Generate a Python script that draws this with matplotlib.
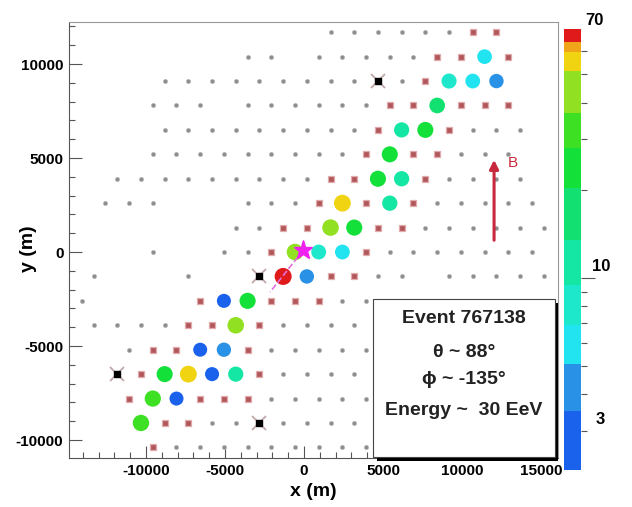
import numpy as np
import matplotlib.pyplot as plt
from matplotlib.colors import ListedColormap, BoundaryNorm
from matplotlib.patches import Rectangle
from matplotlib.ticker import FixedLocator, MultipleLocator, NullFormatter

plt.rcParams['font.family'] = ['Liberation Sans', 'DejaVu Sans']
plt.rcParams['font.weight'] = 'bold'
plt.rcParams['axes.unicode_minus'] = False

# station positions read off the event display (metres), one row of the grid per line
# stations that were running but not triggered
idle_pts = [
    (1680, 11691), (3180, 11691), (4680, 11691), (6180, 11691), (7680, 11691), (9180, 11691),
    (-3570, 10392), (-2070, 10392), (930, 10392), (2430, 10392), (3930, 10392), (5430, 10392), (6930, 10392),
    (-8820, 9093), (-7320, 9093), (-5820, 9093), (-4320, 9093), (-2820, 9093), (-1320, 9093), (180, 9093),
    (1680, 9093), (3180, 9093), (6180, 9093),
    (-9570, 7794), (-8070, 7794), (-6570, 7794), (-3570, 7794), (-2070, 7794), (-570, 7794), (930, 7794),
    (2430, 7794), (3930, 7794),
    (-8820, 6495), (-7320, 6495), (-5820, 6495), (-4320, 6495), (-2820, 6495), (-1320, 6495), (180, 6495),
    (1680, 6495), (3180, 6495), (10680, 6495), (12180, 6495), (13680, 6495),
    (-9570, 5196), (-8070, 5196), (-6570, 5196), (-5070, 5196), (-3570, 5196), (-2070, 5196), (-570, 5196),
    (930, 5196), (2430, 5196), (9930, 5196), (11430, 5196), (12930, 5196),
    (-11820, 3897), (-10320, 3897), (-8820, 3897), (-7320, 3897), (-5820, 3897), (-4320, 3897), (-2820, 3897),
    (-1320, 3897), (180, 3897), (9180, 3897), (10680, 3897), (12180, 3897), (13680, 3897),
    (-12570, 2598), (-11070, 2598), (-9570, 2598), (-3570, 2598), (-2070, 2598), (-570, 2598), (8430, 2598),
    (9930, 2598), (11430, 2598), (12930, 2598), (14430, 2598),
    (-4320, 1299), (-2820, 1299), (7680, 1299), (9180, 1299), (10680, 1299), (12180, 1299), (13680, 1299),
    (15180, 1299),
    (-9570, 0), (-5070, 0), (-3570, 0), (5430, 0), (6930, 0), (8430, 0), (9930, 0), (11430, 0), (12930, 0),
    (14430, 0),
    (-13320, -1299), (-7320, -1299), (4680, -1299), (6180, -1299), (9180, -1299), (10680, -1299),
    (12180, -1299), (13680, -1299), (15180, -1299),
    (-14070, -2598), (2430, -2598), (3930, -2598),
    (-13320, -3897), (-11820, -3897), (-10320, -3897), (-8820, -3897), (-1320, -3897), (180, -3897),
    (1680, -3897), (3180, -3897),
    (-11070, -5196), (-2070, -5196), (-570, -5196), (930, -5196), (2430, -5196), (3930, -5196),
    (-1320, -6495), (180, -6495), (1680, -6495), (3180, -6495),
    (-2070, -7794), (-570, -7794), (930, -7794), (2430, -7794), (3930, -7794),
    (-5820, -9093), (-4320, -9093), (-1320, -9093), (180, -9093), (1680, -9093), (3180, -9093),
    (-8070, -10392), (-6570, -10392), (-5070, -10392), (-3570, -10392), (-2070, -10392), (-570, -10392),
    (930, -10392), (2430, -10392), (3930, -10392),
]

# silent stations (red squares)
silent_pts = [
    (10680, 11691), (12180, 11691),
    (8430, 10392), (9930, 10392), (12930, 10392),
    (7680, 9093),
    (5430, 7794), (6930, 7794), (9930, 7794), (11430, 7794), (12930, 7794),
    (4680, 6495), (9180, 6495),
    (3930, 5196), (6930, 5196), (8430, 5196),
    (1680, 3897), (3180, 3897), (7680, 3897),
    (930, 2598), (3930, 2598), (6930, 2598),
    (-1320, 1299), (180, 1299), (4680, 1299), (6180, 1299),
    (-2070, 0), (3930, 0),
    (1680, -1299), (3180, -1299),
    (-6570, -2598), (-2070, -2598), (-570, -2598), (930, -2598),
    (-7320, -3897), (-5820, -3897), (-2820, -3897),
    (-9570, -5196), (-8070, -5196), (-3570, -5196),
    (-10320, -6495), (-2820, -6495),
    (-11070, -7794), (-6570, -7794), (-5070, -7794), (-3570, -7794),
    (-8820, -9093), (-7320, -9093),
    (-9570, -10392),
]

# stations out of service (black)
bad_pts = [(4680, 9093), (-2820, -1299), (-11820, -6495), (-2820, -9093)]

# triggered stations: x, y and signal (VEM)
hit_x = [11430, 9180, 10680, 12180, 8430, 6180, 7680, 5430, 4680, 6180, 2430, 5430, 1680, 3180,
         -570, 930, 2430, -1320, 180, -5070, -3570, -4320, -6570, -5070, -8820, -7320, -5820, -4320,
         -9570, -8070, -10320]
hit_y = [10392, 9093, 9093, 9093, 7794, 6495, 6495, 5196, 3897, 3897, 2598, 2598, 1299, 1299,
         0, 0, 0, -1299, -1299, -2598, -2598, -3897, -5196, -5196, -6495, -6495, -6495, -6495,
         -7794, -7794, -9093]
hit_signal = [6.0, 9.0, 6.5, 4.3, 16, 10, 24, 25, 26, 11, 55, 11, 40, 27,
              42, 7.2, 6.8, 68, 4.5, 3.0, 27, 40, 2.8, 4.0, 26, 56, 3.1, 10,
              30, 2.9, 34]

core_x, core_y = -40, 100
axis_end = (-2150, -2130)

# colour scale (discrete bands, log axis)
signal_edges = [2.2, 3.5, 5.1, 6.9, 9.5, 13.5, 20.4, 28, 37, 51.5, 59.5, 64.4, 71.6]
band_colors = ['#1a62ec', '#2a92e6', '#22e4f0', '#1ee8cc', '#14e6a4', '#12e070',
               '#14e03a', '#3ee024', '#92e022', '#f0d412', '#f0a41a', '#e01a1a']

cmap = ListedColormap(band_colors)
norm = BoundaryNorm(signal_edges, cmap.N)

fig = plt.figure(figsize=(6.32, 5.07), dpi=100)
ax = fig.add_axes([0.1092, 0.0966, 0.7737, 0.86])
cax = fig.add_axes([0.8924, 0.073, 0.0269, 0.870])

ix, iy = zip(*idle_pts)
ax.plot(ix, iy, 'o', ms=3.0, color='#8c8c8c', mec='#b8b8b8', mew=0.5, zorder=2)
sx, sy = zip(*silent_pts)
ax.plot(sx, sy, 's', ms=4.4, color='#b0585c', mec='#e2aaaa', mew=0.9, zorder=2)
bx, by = zip(*bad_pts)
ax.plot(bx, by, 'x', ms=10, color='#c0a8a8', mew=1.3, zorder=2)
ax.plot(bx, by, 's', ms=3.8, color='black', zorder=3)

sizes = [((13 + 2.2 * np.log10(s)) * 0.72) ** 2 for s in hit_signal]
ax.scatter(hit_x, hit_y, s=sizes, c=hit_signal, cmap=cmap, norm=norm,
           edgecolors='none', zorder=4)

# shower axis projection and core
ax.plot([core_x, axis_end[0]], [core_y, axis_end[1]], '--', color='#e070e0', lw=1.2, zorder=5)
ax.plot(core_x, core_y, '*', ms=14, color='#f020f0', zorder=6)

# magnetic field arrow
ax.annotate('', xy=(12030, 5050), xytext=(12030, 480),
            arrowprops=dict(arrowstyle='-|>', color='#c8283c', lw=2.2, mutation_scale=13),
            zorder=5)
ax.text(13230, 4734, 'B', color='#c8283c', fontsize=11, fontweight='normal',
        ha='center', va='center', zorder=5)

ax.set_xlim(-14873, 16076)
ax.set_ylim(-10957, 12234)
ax.xaxis.set_major_locator(MultipleLocator(5000))
ax.xaxis.set_minor_locator(MultipleLocator(1000))
ax.yaxis.set_major_locator(MultipleLocator(5000))
ax.yaxis.set_minor_locator(MultipleLocator(1000))
ax.tick_params(which='both', direction='in', top=False, right=False, labelsize=11,
               color='#555555', width=0.8)
ax.tick_params(which='major', length=9, pad=4)
ax.tick_params(which='minor', length=4.5)
for lab in ax.get_xticklabels() + ax.get_yticklabels():
    lab.set_fontweight('bold')
for side in ['left', 'bottom']:
    ax.spines[side].set_color('#555555')
for side in ['top', 'right']:
    ax.spines[side].set_color('#999999')
ax.set_xlabel('x (m)', fontsize=14, fontweight='bold', labelpad=4)
ax.set_ylabel('y (m)', fontsize=14, fontweight='bold')
ax.yaxis.set_label_coords(-0.065, 0.48)

# info box with shadow
ax.add_patch(Rectangle((0.629, -0.006), 0.372, 0.362, transform=ax.transAxes,
                       facecolor='black', edgecolor='none', zorder=7, clip_on=False))
ax.add_patch(Rectangle((0.622, 0.003), 0.372, 0.361, transform=ax.transAxes,
                       facecolor='white', edgecolor='#444444', lw=0.8, zorder=8, clip_on=False))
box_lines = ['Event 767138', 'θ ~ 88°', 'ϕ ~ -135°', 'Energy ~  30 EeV']
box_y = [0.321, 0.243, 0.179, 0.110]
for txt, yy in zip(box_lines, box_y):
    ax.text(0.808, yy, txt, transform=ax.transAxes, ha='center', va='center',
            fontsize=14, fontweight='bold', color='#222222', zorder=9)

# colour bar drawn as bands on a log axis
cax.set_yscale('log')
for lo, hi, col in zip(signal_edges[:-1], signal_edges[1:], band_colors):
    cax.axhspan(lo, hi, color=col, lw=0)
cax.set_ylim(signal_edges[0], signal_edges[-1])
cax.set_xlim(0, 1)
cax.set_xticks([])
cax.yaxis.tick_right()
cax.yaxis.set_major_locator(FixedLocator([10]))
cax.yaxis.set_minor_locator(FixedLocator([3, 4, 5, 6, 7, 8, 9, 20, 30, 40, 50, 60]))
cax.yaxis.set_major_formatter(NullFormatter())
cax.yaxis.set_minor_formatter(NullFormatter())
cax.tick_params(which='major', length=10, width=0.8, color='#555555')
cax.tick_params(which='minor', length=4.5, width=0.8, color='#555555')
for sp in cax.spines.values():
    sp.set_visible(False)
ytr = cax.get_yaxis_transform()
cax.text(1.25, 72, '70', transform=ytr, ha='left', va='bottom', fontsize=12, fontweight='bold')
cax.text(1.65, 10.3, '10', transform=ytr, ha='left', va='bottom', fontsize=12, fontweight='bold')
cax.text(1.85, 3.1, '3', transform=ytr, ha='left', va='bottom', fontsize=12, fontweight='bold')

fig.savefig('out.png', dpi=100)
